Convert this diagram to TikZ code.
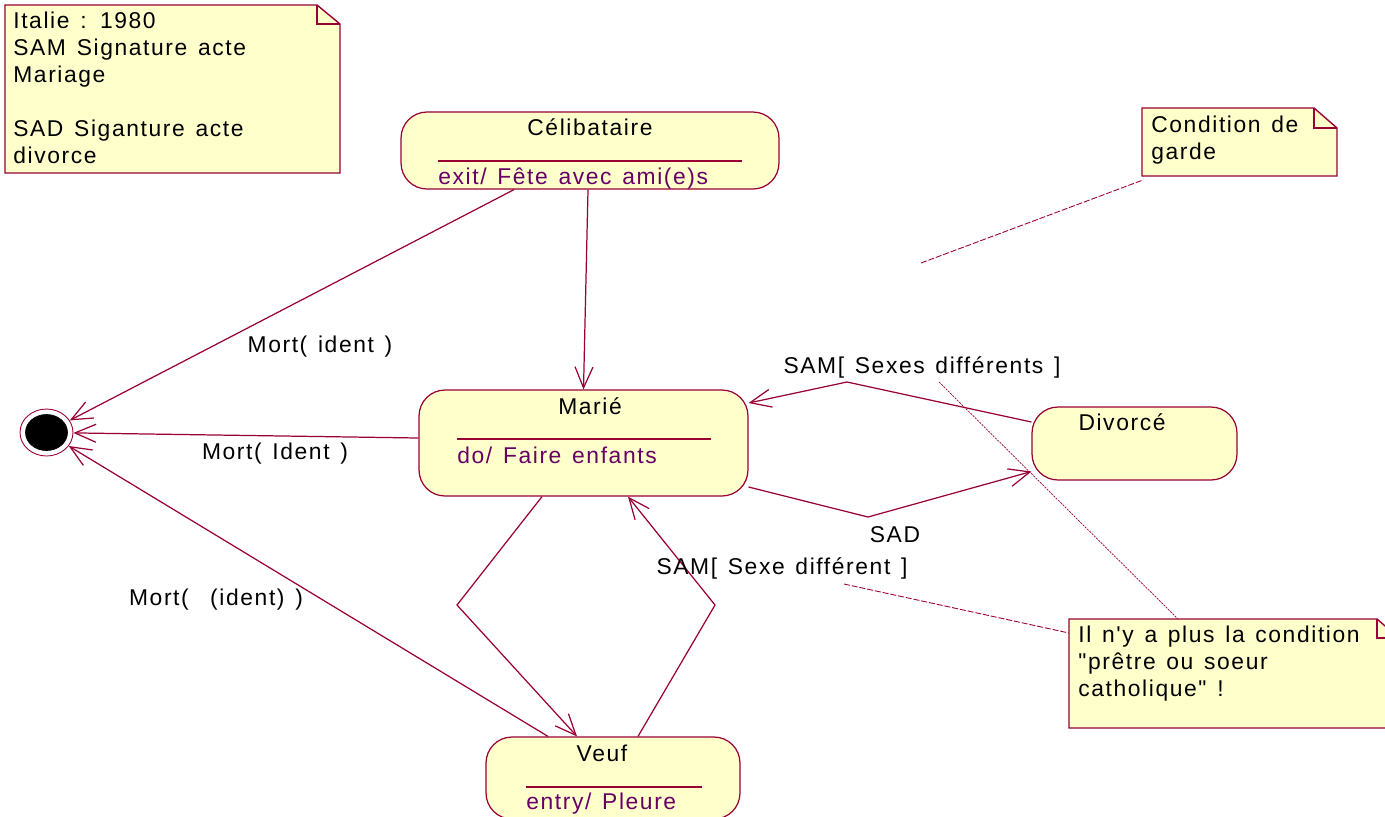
\documentclass[tikz,border=0pt]{standalone}
\usepackage{fontspec}
\setmainfont{Liberation Sans}[LetterSpace=7, WordSpace=1.35, Ligatures=TeXOff]
\usetikzlibrary{arrows.meta,calc,shapes.geometric}
\definecolor{umlline}{HTML}{990033}
\definecolor{umlfill}{HTML}{FFFFCC}
\definecolor{actiontext}{HTML}{660066}
\begin{document}
\begin{tikzpicture}[x=0.02cm,y=-0.02cm,
  every node/.style={font=\fontsize{13}{15.3}\selectfont, inner sep=0pt},
  statebox/.style={draw=umlline, fill=umlfill, line width=0.7pt, rounded corners=0.52cm, rectangle},
  trans/.style={draw=umlline, line width=0.7pt, -{Straight Barb[length=0.42cm,width=0.36cm,line width=0.7pt]}},
  notebox/.style={draw=umlline, fill=umlfill, line width=0.8pt},
  notetext/.style={anchor=north west, align=left},
  sepline/.style={draw=umlline, line width=0.6pt},
  anchorline/.style={draw=umlline, line width=0.5pt, dash pattern=on 3.4pt off 1.1pt},
  fineline/.style={draw=umlline, line width=0.4pt, dash pattern=on 1.2pt off 0.6pt},
  title/.style={anchor=base},
  action/.style={anchor=base west, text=actiontext},
  tlabel/.style={anchor=base}
]
\useasboundingbox (0,0) rectangle (1385,816);
\clip (0,0) rectangle (1385,816);

% ---------- notes ----------
\path[notebox] (5,5) -- (317,5) -- (340,24) -- (340,173) -- (5,173) -- cycle;
\draw[umlline, line width=0.8pt] (317,5) -- (317,24) -- (340,24);
\node[notetext] (legend) at (13,12) {Italie : 1980\\SAM Signature acte\\Mariage\\[15.3pt]SAD Siganture acte\\divorce};

\path[notebox] (1142,108) -- (1314,108) -- (1337,128) -- (1337,176) -- (1142,176) -- cycle;
\draw[umlline, line width=0.8pt] (1314,108) -- (1314,128) -- (1337,128);
\node[notetext] (guardnote) at (1151,116) {Condition de\\garde};

\path[notebox] (1069,619) -- (1377,619) -- (1399,638) -- (1399,728) -- (1069,728) -- cycle;
\draw[umlline, line width=0.8pt] (1377,619) -- (1377,638) -- (1399,638);
\node[notetext] (italynote) at (1078,626) {Il n'y a plus la condition\\"prêtre ou soeur\\catholique" !};

% ---------- states ----------
\node[statebox, minimum width=7.56cm, minimum height=1.54cm] (celib) at (590,150.5) {};
\node[title] (celibname) at (590,135) {Célibataire};
\draw[sepline] (438,161) -- (742,161);
\node[action] (celibact) at (438,184) {exit/ Fête avec ami(e)s};

\node[statebox, minimum width=6.58cm, minimum height=2.12cm] (marie) at (583.5,443) {};
\node[title] (mariename) at (590,414) {Marié};
\draw[sepline] (457,439) -- (711,439);
\node[action] (marieact) at (457,463) {do/ Faire enfants};

\node[statebox, minimum width=4.1cm, minimum height=1.46cm] (divorce) at (1134.5,443.5) {};
\node[title] (divorcename) at (1122,430) {Divorcé};

\node[statebox, minimum width=5.08cm, minimum height=1.64cm] (veuf) at (613,778) {};
\node[title] (veufname) at (602,761) {Veuf};
\draw[sepline] (526,787) -- (702,787);
\node[action] (veufact) at (526,809) {entry/ Pleure};

% final state
\node[ellipse, draw=umlline, line width=0.5pt, fill=white, minimum width=1.06cm, minimum height=0.94cm] (final) at (46.5,432.5) {};
\node[ellipse, draw=black, fill=black, minimum width=0.84cm, minimum height=0.72cm] (finalcore) at (46.5,432.5) {};

% ---------- bend points ----------
\coordinate (mv) at (457,605);
\coordinate (vm) at (715,605);
\coordinate (dm) at (847,382);
\coordinate (md) at (868,517);

% ---------- transitions ----------
\draw[trans] ($(celib.south)+(-76,0)$) -- (final);
\draw[trans] ($(celib.south)+(-2,0)$) -- (marie.north);
\draw[trans] ($(marie.west)+(0,-5)$) -- (final);
\draw[trans] ($(veuf.north)+(-65,0)$) -- (final);
\draw[trans] ($(marie.south)+(-41.5,0)$) -- (mv) -- ($(veuf.north)+(-36,0)$);
\draw[trans] ($(veuf.north)+(25,0)$) -- (vm) -- ($(marie.south)+(44.5,0)$);
\draw[trans] ($(divorce.west)+(0,-21.5)$) -- (dm) -- ($(marie.east)+(0,-40)$);
\draw[trans] ($(marie.east)+(0,44)$) -- (md) -- ($(divorce.west)+(0,28)$);

% ---------- transition labels ----------
\node[tlabel] (lbl1) at (320,352) {Mort( ident )};
\node[tlabel] (lbl2) at (275,459) {Mort( Ident )};
\node[tlabel] (lbl3) at (216,605) {Mort(\ \ (ident) )};
\node[tlabel] (lbl4) at (922,373) {SAM[ Sexes différents ]};
\node[tlabel] (lbl5) at (895,542) {SAD};
\node[tlabel] (lbl6) at (782,574) {SAM[ Sexe différent ]};

% ---------- note anchors ----------
\coordinate (guardpt) at (921,263);
\coordinate (guardend) at (1143,180);
\coordinate (sexespt) at (939,382);
\coordinate (sexesend) at (1178,619);
\coordinate (sexept) at (844,584);
\coordinate (sexeend) at (1069,633);
\draw[anchorline] (guardpt) -- (guardend);
\draw[fineline] (sexespt) -- (sexesend);
\draw[anchorline] (sexept) -- (sexeend);
\end{tikzpicture}
\end{document}
